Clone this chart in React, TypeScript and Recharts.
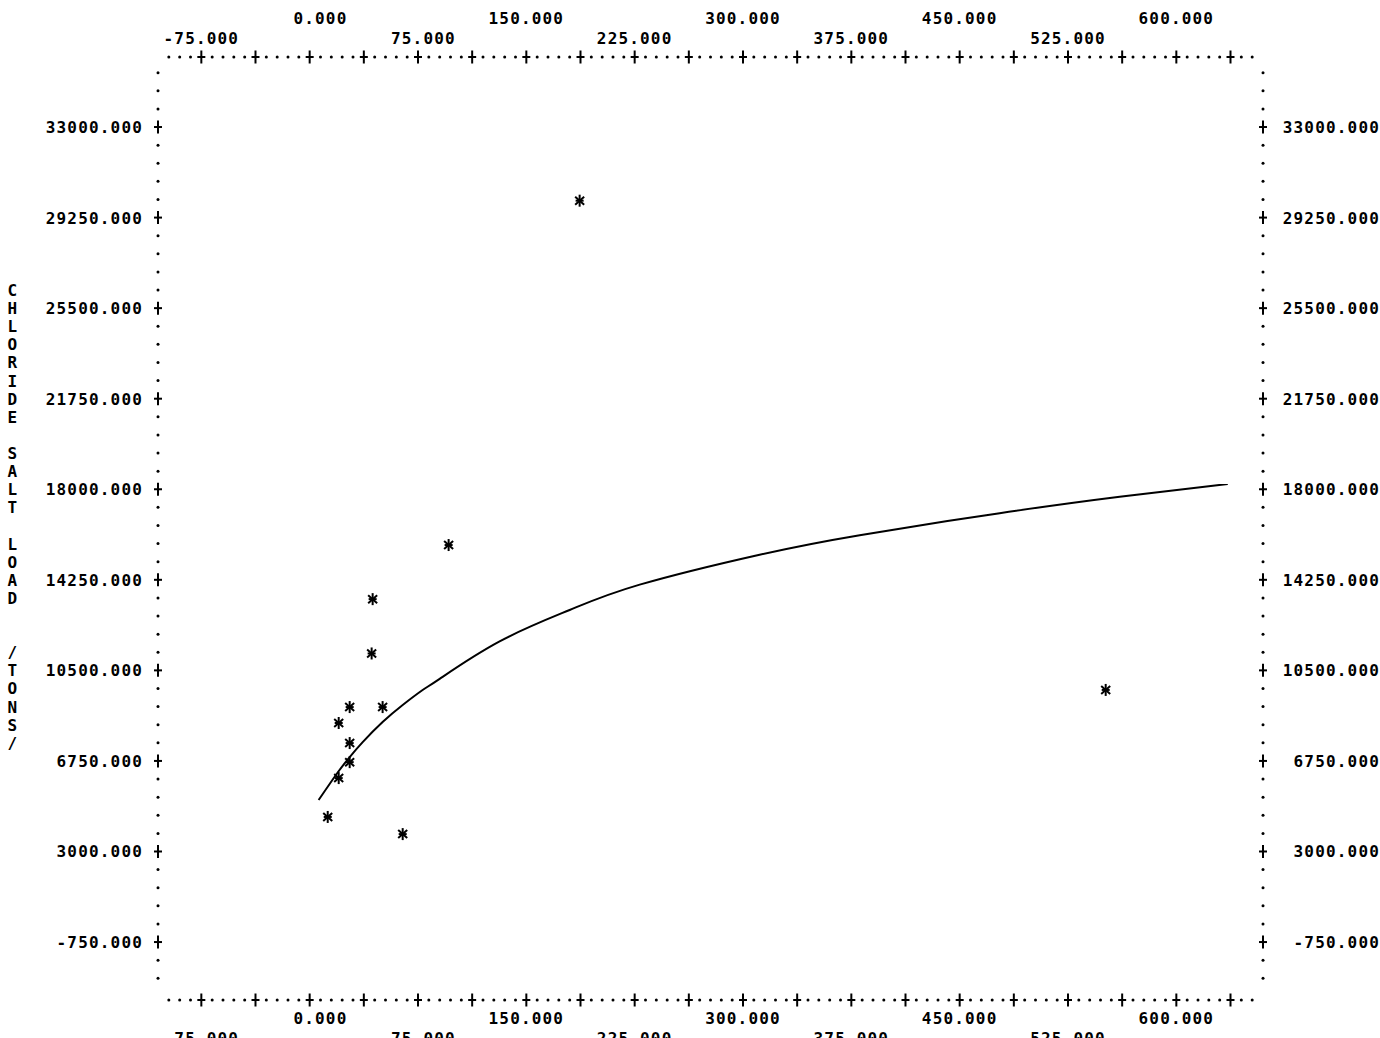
import { ComposedChart, Line, Scatter, XAxis, YAxis } from "recharts";

document.body.style.margin = "0";

const FONT = '"DejaVu Sans Mono", "Liberation Mono", monospace';
const CHAR_W = 10.8;

// observed samples (stars)
const sampleFlow = [186.9, 96.2, 43.6, 42.9, 27.7, 50.5, 20.1, 27.7, 27.7, 20.1, 12.5, 64.4, 551.1];
const sampleLoad = [29950, 15690, 13450, 11200, 8980, 8980, 8320, 7490, 6700, 6040, 4430, 3720, 9690];

// fitted curve
const fitFlow = [6.2, 19.4, 27.7, 36.7, 50.5, 64.4, 78.2, 90.0, 131.5, 180.0, 228.5, 311.5, 380.8, 477.7, 560.8, 635.6];
const fitLoad = [5130, 6270, 6910, 7530, 8360, 9065, 9685, 10150, 11700, 13000, 14050, 15290, 16100, 17010, 17690, 18215];

const xLabelsUpper = [0, 150, 300, 450, 600];
const xLabelsLower = [-75, 75, 225, 375, 525];
const yLabels = [-750, 3000, 6750, 10500, 14250, 18000, 21750, 25500, 29250, 33000];
const yTitle = "CHLORIDE SALT LOAD  /TONS/";

const samples = sampleFlow.map((flow, i) => ({ flow, load: sampleLoad[i] }));
const fit = fitFlow.map((flow, i) => ({ flow, load: fitLoad[i] }));

// printer-grid dots along the frame
const xTicks: number[] = [];
for (let i = -13; i <= 87; i++) xTicks.push(i * 7.5);
const yTicks: number[] = [];
for (let i = -3; i <= 47; i++) yTicks.push(i * 750);

const isXPlus = (v: number) => Math.abs(v / 37.5 - Math.round(v / 37.5)) < 1e-6;
const isYPlus = (v: number) => yLabels.includes(v);

const textStyle = {
  fontFamily: FONT,
  fontSize: 16,
  fontWeight: 700,
  letterSpacing: 1.17,
  fill: "#000",
};

function Plus({ x, y }: { x: number; y: number }) {
  return (
    <g stroke="#000" strokeWidth={2}>
      <line x1={x} y1={y - 6.5} x2={x} y2={y + 6.5} />
      <line x1={x - 4} y1={y} x2={x + 4} y2={y} />
    </g>
  );
}

function Dot({ x, y }: { x: number; y: number }) {
  return <circle cx={x} cy={y} r={1.5} fill="#000" />;
}

function xText(v: number, x: number, y: number) {
  const s = v.toFixed(3);
  const intLen = s.indexOf(".");
  return (
    <text x={x - (intLen + 0.5) * CHAR_W} y={y} style={textStyle}>
      {s}
    </text>
  );
}

function XTick(props: any, side: "top" | "bottom") {
  const { x, y, payload } = props;
  const v = payload.value;
  const upY = side === "top" ? y - 33 : y + 24;
  const lowY = side === "top" ? y - 13 : y + 44;
  return (
    <g key={`${side}-${v}`}>
      {isXPlus(v) ? <Plus x={x} y={y} /> : <Dot x={x} y={y} />}
      {xLabelsUpper.includes(v) && xText(v, x, upY)}
      {xLabelsLower.includes(v) && xText(v, x, lowY)}
    </g>
  );
}

function YTick(props: any, side: "left" | "right") {
  const { x, y, payload } = props;
  const v = payload.value;
  const plus = isYPlus(v);
  return (
    <g key={`${side}-${v}`}>
      {plus ? <Plus x={x} y={y} /> : <Dot x={x} y={y} />}
      {plus && (
        <text
          x={side === "left" ? x - 15 : x + 117}
          y={y + 6}
          textAnchor="end"
          style={textStyle}
        >
          {v.toFixed(3)}
        </text>
      )}
    </g>
  );
}

function YTitle(props: any) {
  const vb = props.viewBox || { x: 0, y: 57 };
  return (
    <g>
      {yTitle.split("").map((ch, i) =>
        ch === " " ? null : (
          <text
            key={i}
            x={vb.x + 13}
            y={vb.y + 239 + i * 18.11}
            textAnchor="middle"
            style={textStyle}
          >
            {ch}
          </text>
        )
      )}
    </g>
  );
}

function Asterisk(props: any) {
  const { cx, cy } = props;
  return (
    <g stroke="#000" strokeWidth={2}>
      <line x1={cx} y1={cy - 6} x2={cx} y2={cy + 6} />
      <line x1={cx - 4.5} y1={cy - 4} x2={cx + 4.5} y2={cy + 4} />
      <line x1={cx - 4.5} y1={cy + 4} x2={cx + 4.5} y2={cy - 4} />
      <line x1={cx - 4} y1={cy} x2={cx + 4} y2={cy} />
    </g>
  );
}

export default function App() {
  return (
    <ComposedChart
      width={1380}
      height={1038}
      margin={{ top: 0, right: 0, bottom: 0, left: 0 }}
      style={{ background: "#fff" }}
    >
      <XAxis
        xAxisId="top"
        orientation="top"
        type="number"
        dataKey="flow"
        domain={[-105, 660]}
        allowDataOverflow
        ticks={xTicks}
        interval={0}
        height={57}
        tickSize={0}
        tickMargin={0}
        axisLine={false}
        tickLine={false}
        tick={(p: any) => XTick(p, "top")}
      />
      <XAxis
        xAxisId="bottom"
        orientation="bottom"
        type="number"
        dataKey="flow"
        domain={[-105, 660]}
        allowDataOverflow
        ticks={xTicks}
        interval={0}
        height={38}
        tickSize={0}
        tickMargin={0}
        axisLine={false}
        tickLine={false}
        tick={(p: any) => XTick(p, "bottom")}
      />
      <YAxis
        yAxisId="left"
        orientation="left"
        type="number"
        dataKey="load"
        domain={[-3150, 35900]}
        allowDataOverflow
        ticks={yTicks}
        interval={0}
        width={158}
        tickSize={0}
        tickMargin={0}
        axisLine={false}
        tickLine={false}
        tick={(p: any) => YTick(p, "left")}
        label={{ content: (p: any) => <YTitle {...p} /> }}
      />
      <YAxis
        yAxisId="right"
        orientation="right"
        type="number"
        dataKey="load"
        domain={[-3150, 35900]}
        allowDataOverflow
        ticks={yTicks}
        interval={0}
        width={117}
        tickSize={0}
        tickMargin={0}
        axisLine={false}
        tickLine={false}
        tick={(p: any) => YTick(p, "right")}
      />
      <Line
        xAxisId="bottom"
        yAxisId="left"
        data={fit}
        dataKey="load"
        type="natural"
        stroke="#000"
        strokeWidth={2}
        dot={false}
        activeDot={false}
        isAnimationActive={false}
      />
      <Scatter
        xAxisId="bottom"
        yAxisId="left"
        data={samples}
        dataKey="load"
        shape={Asterisk}
        isAnimationActive={false}
      />
    </ComposedChart>
  );
}
